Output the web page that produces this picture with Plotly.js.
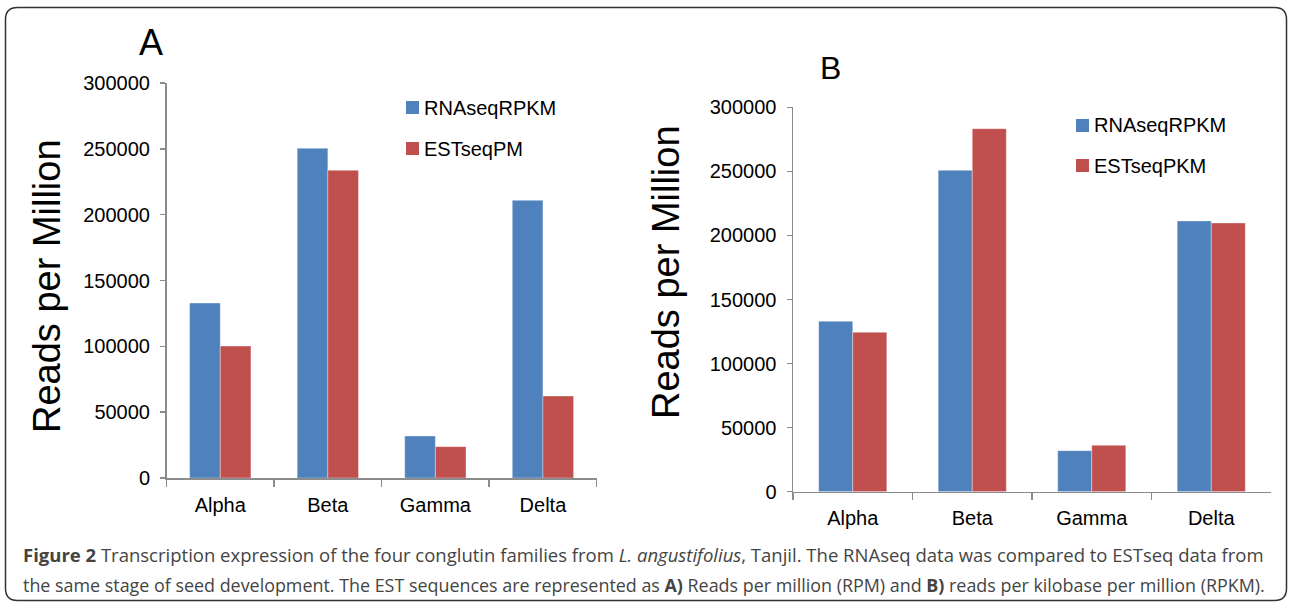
<!DOCTYPE html>
<html>
<head>
<meta charset="utf-8">
<script src="https://cdn.plot.ly/plotly-3.0.1.min.js"></script>
<style>html,body{margin:0;padding:0;background:#fff;}#chart{width:1289px;height:604px;}</style>
</head>
<body>
<div id="chart"></div>
<script>
// ---- data ----
const categories = ['Alpha', 'Beta', 'Gamma', 'Delta'];
const seriesNames = ['RNAseqRPKM', 'ESTseqPM', 'ESTseqPKM'];
// Panel A: reads per million
const panelA_RNAseq = [132900, 250400, 31900, 210900];
const panelA_ESTseq = [100200, 233700, 23800, 62300];
// Panel B: reads per kilobase per million
const panelB_RNAseq = [133000, 250800, 32000, 211300];
const panelB_ESTseq = [124400, 283300, 36200, 209700];
const yTickValues = [0, 50000, 100000, 150000, 200000, 250000, 300000];
const yTitle = 'Reads per Million';
const captionLine1 = '<b>Figure 2</b> Transcription expression of the four conglutin families from <i>L. angustifolius</i>, Tanjil. The RNAseq data was compared to ESTseq data from';
const captionLine2 = 'the same stage of seed development. The EST sequences are represented as <b>A)</b> Reads per million (RPM) and <b>B)</b> reads per kilobase per million (RPKM).';

// ---- style ----
const W = 1289, H = 604;
const BLUE = '#4F81BD', RED = '#C0504D';
const FONT = 'Liberation Sans, Arial, sans-serif';
const px = x => x / W;
const py = y => 1 - y / H;

function bar(x, y, color, xa, ya) {
  return {type: 'bar', x: x, y: y, xaxis: xa, yaxis: ya, showlegend: false,
    marker: {color: color, line: {color: 'rgba(255,255,255,0.35)', width: 1}},
    hoverinfo: 'x+y'};
}
const data = [
  bar(categories, panelA_RNAseq, BLUE, 'x', 'y'),
  bar(categories, panelA_ESTseq, RED, 'x', 'y'),
  bar(categories, panelB_RNAseq, BLUE, 'x2', 'y2'),
  bar(categories, panelB_ESTseq, RED, 'x2', 'y2')
];

function xax(dom, anchor) {
  return {domain: dom, anchor: anchor, type: 'category', showline: true, linecolor: '#8c8c8c', linewidth: 1.5,
    ticks: 'outside', ticklen: 7, tickcolor: '#8c8c8c', tickwidth: 1.5, tickson: 'boundaries',
    showgrid: false, zeroline: false, ticklabelstandoff: 8,
    tickfont: {family: FONT, size: 20, color: '#000'}};
}
function yax(dom, anchor) {
  return {domain: dom, anchor: anchor, range: [0, 300000], tickvals: yTickValues,
    ticktext: yTickValues.map(String), showline: true, linecolor: '#8c8c8c', linewidth: 1.5,
    ticks: 'outside', ticklen: 5, tickcolor: '#8c8c8c', tickwidth: 1.5,
    showgrid: false, zeroline: false, ticklabelstandoff: 6,
    tickfont: {family: FONT, size: 20, color: '#000'}};
}

function txt(x, y, text, size, opts) {
  return Object.assign({xref: 'paper', yref: 'paper', x: px(x), y: py(y), text: text, showarrow: false,
    font: {family: FONT, size: size, color: '#000'}, xanchor: 'left', yanchor: 'middle'}, opts || {});
}
function sq(x0, y0, x1, y1, color) {
  return {type: 'rect', xref: 'paper', yref: 'paper', x0: px(x0), x1: px(x1), y0: py(y1), y1: py(y0),
    fillcolor: color, line: {width: 0}};
}

// rounded frame
const fl = 5.5, fr = 1286.5, ft = 7.5, fb = 600.5, r = 12;
const rx = r / W, ry = r / H;
const framePath = [
  'M', px(fl) + rx, py(ft),
  'L', px(fr) - rx, py(ft), 'Q', px(fr), py(ft), px(fr), py(ft) - ry,
  'L', px(fr), py(fb) + ry, 'Q', px(fr), py(fb), px(fr) - rx, py(fb),
  'L', px(fl) + rx, py(fb), 'Q', px(fl), py(fb), px(fl), py(fb) + ry,
  'L', px(fl), py(ft) - ry, 'Q', px(fl), py(ft), px(fl) + rx, py(ft), 'Z'
].join(' ');

const CAPFONT = 'Open Sans, Noto Sans, sans-serif';
const layout = {
  width: W, height: H, margin: {l: 0, r: 0, t: 0, b: 0},
  paper_bgcolor: '#fff', plot_bgcolor: 'rgba(0,0,0,0)',
  barmode: 'group', bargap: 0.43, bargroupgap: 0,
  xaxis: xax([px(166.5), px(596.7)], 'y'),
  yaxis: yax([py(478), py(83)], 'x'),
  xaxis2: xax([px(793), px(1271)], 'y2'),
  yaxis2: yax([py(491.7), py(107.3)], 'x2'),
  shapes: [
    {type: 'path', xref: 'paper', yref: 'paper', path: framePath, line: {color: '#333', width: 1.5}},
    sq(406, 101, 419, 114, BLUE), sq(406, 142, 419, 155, RED),
    sq(1076, 119, 1089, 132, BLUE), sq(1076, 159, 1089, 172, RED)
  ],
  annotations: [
    txt(151, 43, 'A', 36, {xanchor: 'center'}),
    txt(830, 68, 'B', 32, {xanchor: 'center'}),
    txt(47, 286, yTitle, 38, {xanchor: 'center', textangle: -90}),
    txt(666, 272, yTitle, 38, {xanchor: 'center', textangle: -90}),
    txt(422, 107.5, seriesNames[0], 20),
    txt(422, 148.5, seriesNames[1], 20),
    txt(1092, 125.5, seriesNames[0], 20),
    txt(1092, 165.5, seriesNames[2], 20),
    txt(21, 554, captionLine1, 18.5, {font: {family: CAPFONT, size: 18.5, color: '#444'}}),
    txt(21, 585, captionLine2, 17.9, {font: {family: CAPFONT, size: 17.9, color: '#444'}})
  ]
};

Plotly.newPlot('chart', data, layout, {displayModeBar: false, staticPlot: true});
</script>
</body>
</html>
